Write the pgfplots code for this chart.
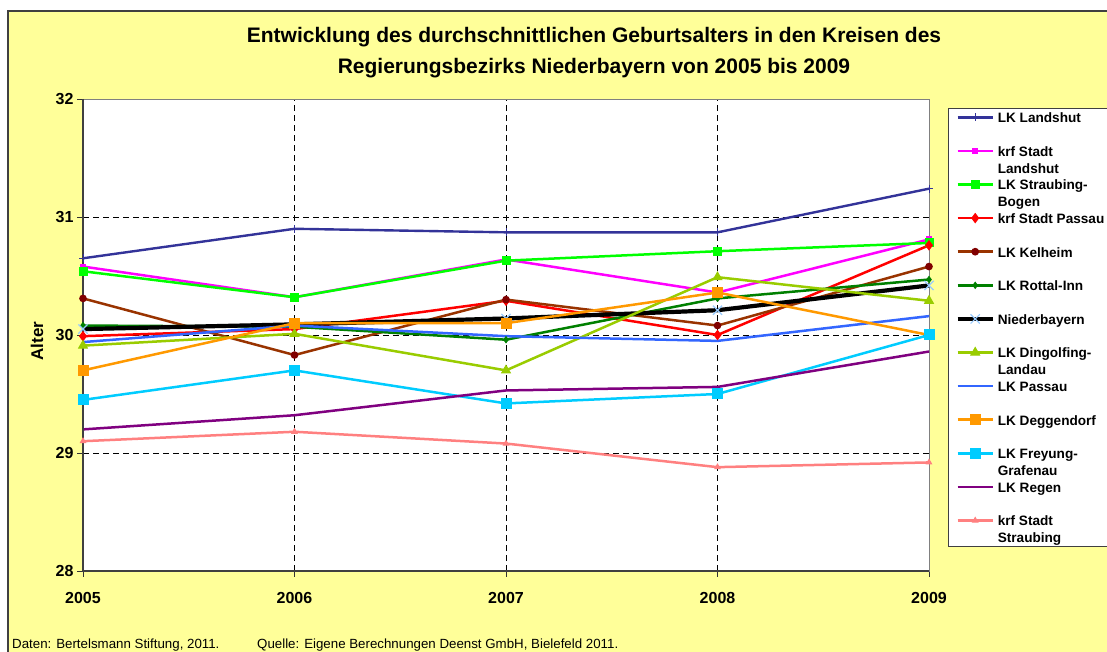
\documentclass[border=0pt]{standalone}
\usepackage{fontspec}
\setmainfont{Liberation Sans}
\usepackage{pgfplots}
\pgfplotsset{compat=1.18}
\definecolor{bgyellow}{HTML}{FFFF99}
\definecolor{cLandshut}{HTML}{333399}
\definecolor{cStLandshut}{HTML}{FF00FF}
\definecolor{cStrBogen}{HTML}{00FF00}
\definecolor{cStPassau}{HTML}{FF0000}
\definecolor{cKelheim}{HTML}{993300}
\definecolor{cKelheimM}{HTML}{800000}
\definecolor{cRottal}{HTML}{008000}
\definecolor{cNBmark}{HTML}{99CCFF}
\definecolor{cDingolf}{HTML}{99CC00}
\definecolor{cPassau}{HTML}{3366FF}
\definecolor{cDegg}{HTML}{FF9900}
\definecolor{cFreyung}{HTML}{00CCFF}
\definecolor{cRegen}{HTML}{800080}
\definecolor{cStStraub}{HTML}{FF8080}
\newcommand{\LE}[1]{\parbox[t]{115pt}{\raggedright #1}}
\begin{document}
\begin{tikzpicture}[x=1pt,y=1pt]
\useasboundingbox (0,0) rectangle (1107,652);
\clip (0,0) rectangle (1107,652);
\fill[white] (0,0) rectangle (1107,652);
\draw[fill=bgyellow, draw=black!75, line width=1.5pt] (8,-20) rectangle (1130,641);
\node[anchor=base, font=\bfseries\fontsize{21}{25}\selectfont] at (594,609) {Entwicklung des durchschnittlichen Geburtsalters in den Kreisen des};
\node[anchor=base, font=\bfseries\fontsize{21}{25}\selectfont] at (594,578) {Regierungsbezirks Niederbayern von 2005 bis 2009};
\node[anchor=base west, inner sep=0pt, font=\fontsize{13.3}{13.3}\selectfont] at (12,3) {Daten: Bertelsmann Stiftung, 2011.};
\node[anchor=base west, inner sep=0pt, font=\fontsize{13.3}{13.3}\selectfont] at (257,3) {Quelle: Eigene Berechnungen Deenst GmbH, Bielefeld 2011.};
\begin{axis}[
  at={(83pt,81pt)}, anchor=south west,
  width=846pt, height=472pt, scale only axis,
  xmin=2005, xmax=2009, ymin=28, ymax=32,
  xtick={2005,2006,2007,2008,2009}, ytick={28,29,30,31,32},
  axis background/.style={fill=white},
  axis line style={draw=gray, line width=0.8pt},
  grid=major,
  major grid style={black, dash pattern=on 6pt off 4pt, line width=0.8pt},
  tick pos=left, tick align=outside, major tick length=6pt,
  tick style={black!80, line width=0.8pt},
  /pgf/number format/assume math mode=true,
  /pgf/number format/1000 sep={},
  ticklabel style={font=\bfseries\fontsize{16}{16}\selectfont},
  xticklabel style={yshift=-12pt},
  ylabel={Alter},
  ylabel style={at={(axis description cs:-0.0544,0.487)}, anchor=center, font=\bfseries\fontsize{17}{17}\selectfont},
  clip=false,
  every axis plot/.append style={line width=2.5pt, mark options={solid, line width=1pt}},
  legend image code/.code={\draw[line width=2.6pt, mark repeat=2,mark phase=2] plot coordinates {(0pt,0pt)(17.5pt,0pt)(35pt,0pt)};},
  legend image post style={yshift=8.5pt},
  legend cell align=left,
  legend style={at={(axis description cs:1.02246,0.98093)}, anchor=north west,
    draw=black!75, line width=1.2pt, fill=white,
    inner xsep=7pt, inner ysep=0.4pt, column sep=3pt, row sep=0pt,
    nodes={inner sep=0pt, text height=13.6pt, text depth=20pt},
    font=\bfseries\fontsize{13.6}{17}\selectfont},
]
\addplot[color=cLandshut, line width=2.4pt, mark=+, mark size=4pt] coordinates {(2005,30.65)(2006,30.90)(2007,30.87)(2008,30.87)(2009,31.24)};
\addlegendentry{\LE{LK Landshut}}
\addplot[color=cStLandshut, mark=square*, mark size=2.5pt] coordinates {(2005,30.58)(2006,30.32)(2007,30.64)(2008,30.36)(2009,30.81)};
\addlegendentry{\LE{krf Stadt\\Landshut}}
\addplot[color=cStrBogen, mark=square*, mark size=4pt] coordinates {(2005,30.54)(2006,30.32)(2007,30.63)(2008,30.71)(2009,30.78)};
\addlegendentry{\LE{LK Straubing-\\Bogen}}
\addplot[color=cStPassau, mark=diamond*, mark size=4.5pt] coordinates {(2005,29.99)(2006,30.05)(2007,30.29)(2008,30.00)(2009,30.76)};
\addlegendentry{\LE{krf Stadt Passau}}
\addplot[color=cKelheim, mark=*, mark size=2.5pt, mark options={draw=cKelheimM, fill=cKelheimM}] coordinates {(2005,30.31)(2006,29.83)(2007,30.30)(2008,30.08)(2009,30.58)};
\addlegendentry{\LE{LK Kelheim}}
\addplot[color=cRottal, mark=diamond*, mark size=3pt] coordinates {(2005,30.08)(2006,30.07)(2007,29.96)(2008,30.31)(2009,30.47)};
\addlegendentry{\LE{LK Rottal-Inn}}
\addplot[color=black, line width=4.2pt, mark=x, mark size=6.5pt, mark options={draw=cNBmark, line width=1.2pt},
  legend image code/.code={\draw[line width=4.2pt, mark repeat=2,mark phase=2] plot coordinates {(0pt,0pt)(17.5pt,0pt)(35pt,0pt)};}] coordinates {(2005,30.05)(2006,30.09)(2007,30.14)(2008,30.21)(2009,30.42)};
\addlegendentry{\LE{Niederbayern}}
\addplot[color=cDingolf, mark=triangle*, mark size=5pt] coordinates {(2005,29.91)(2006,30.01)(2007,29.70)(2008,30.49)(2009,30.29)};
\addlegendentry{\LE{LK Dingolfing-\\Landau}}
\addplot[color=cPassau, mark=none] coordinates {(2005,29.94)(2006,30.08)(2007,29.99)(2008,29.95)(2009,30.16)};
\addlegendentry{\LE{LK Passau}}
\addplot[color=cDegg, mark=square*, mark size=5pt] coordinates {(2005,29.70)(2006,30.10)(2007,30.10)(2008,30.36)(2009,30.00)};
\addlegendentry{\LE{LK Deggendorf}}
\addplot[color=cFreyung, mark=square*, mark size=5pt] coordinates {(2005,29.45)(2006,29.70)(2007,29.42)(2008,29.50)(2009,30.00)};
\addlegendentry{\LE{LK Freyung-\\Grafenau}}
\addplot[color=cRegen, mark=none] coordinates {(2005,29.20)(2006,29.32)(2007,29.53)(2008,29.56)(2009,29.86)};
\addlegendentry{\LE{LK Regen}}
\addplot[color=cStStraub, mark=triangle*, mark size=3pt] coordinates {(2005,29.10)(2006,29.18)(2007,29.08)(2008,28.88)(2009,28.92)};
\addlegendentry{\LE{krf Stadt\\Straubing}}
\draw[black!75, line width=1.2pt] (rel axis cs:0,1) -- (rel axis cs:0,0) -- (rel axis cs:1,0);
\end{axis}
\end{tikzpicture}
\end{document}
